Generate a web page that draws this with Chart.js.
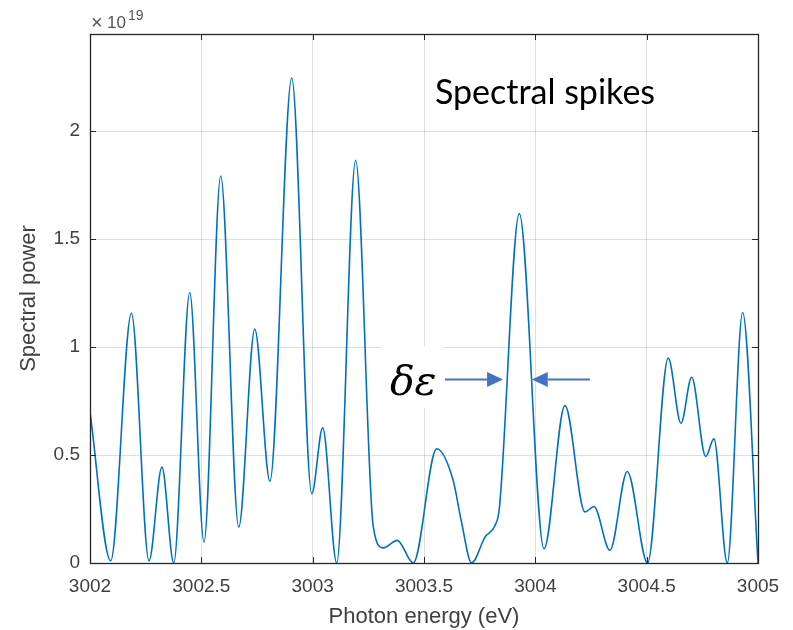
<!DOCTYPE html>
<html>
<head>
<meta charset="utf-8">
<script src="https://cdn.jsdelivr.net/npm/chart.js@4.4.1/dist/chart.umd.min.js"></script>
<style>
  html,body{margin:0;padding:0;background:#fff}
  #wrap{width:793px;height:630px}
</style>
</head>
<body>
<div id="wrap"><canvas id="c" width="793" height="630"></canvas></div>
<script>
// Spectrum, power in units of 1e19
const energy = [
  3002.000, 3002.093, 3002.186, 3002.265, 3002.323, 3002.376, 3002.448, 3002.512,
  3002.587, 3002.668, 3002.740, 3002.808, 3002.906, 3002.996, 3003.045, 3003.108,
  3003.193, 3003.272, 3003.317, 3003.380, 3003.452, 3003.557, 3003.631, 3003.667,
  3003.714, 3003.774, 3003.819, 3003.838, 3003.928, 3004.039, 3004.133, 3004.223,
  3004.263, 3004.335, 3004.413, 3004.504, 3004.597, 3004.654, 3004.702, 3004.765,
  3004.802, 3004.862, 3004.931, 3005.000
];
const power = [
  0.70, 0.01, 1.157, 0.01, 0.444, 0.0, 1.253, 0.097,
  1.792, 0.166, 1.083, 0.379, 2.246, 0.321, 0.626, 0.0,
  1.865, 0.17, 0.07, 0.105, 0.0, 0.529, 0.382, 0.197,
  0.0, 0.12, 0.174, 0.25, 1.618, 0.066, 0.729, 0.236,
  0.262, 0.059, 0.424, 0.0, 0.949, 0.647, 0.86, 0.493,
  0.575, 0.0, 1.16, 0.0
];
const xTicks = [3002, 3002.5, 3003, 3003.5, 3004, 3004.5, 3005];
const yTicks = [0, 0.5, 1, 1.5, 2];
const yMax = 2.45;
const exponent = "19";

const GRID = "rgba(38,38,38,0.15)";
const INK = "#262626";
const SANS = "'Liberation Sans', Arial, sans-serif";
const TICKFONT = {family: SANS, size: 19};

// white patch behind the δε label (covers grid only)
const patch = {
  id: "patch",
  beforeDatasetsDraw(chart){
    const {ctx, scales:{x, y}} = chart;
    const l = x.getPixelForValue(3003.311), r = x.getPixelForValue(3003.585);
    const t = y.getPixelForValue(1.0), b = y.getPixelForValue(0.72);
    ctx.save();
    ctx.fillStyle = "#fff";
    ctx.fillRect(l, t - 1, r - l, b - t + 1);
    ctx.restore();
  }
};

function arrow(ctx, x0, x1, yy){
  // shaft from x0 to head base, head tip at x1
  const dir = Math.sign(x1 - x0);
  const headLen = 16, headHalf = 7.5;
  ctx.beginPath();
  ctx.moveTo(x0, yy);
  ctx.lineTo(x1 - dir*headLen, yy);
  ctx.stroke();
  ctx.beginPath();
  ctx.moveTo(x1, yy);
  ctx.lineTo(x1 - dir*headLen, yy - headHalf);
  ctx.lineTo(x1 - dir*headLen, yy + headHalf);
  ctx.closePath();
  ctx.fill();
}

const frame = {
  id: "frame",
  afterDraw(chart){
    const {ctx, chartArea:a, scales:{x, y}} = chart;
    ctx.save();
    // box + inward ticks on all four sides
    ctx.strokeStyle = INK;
    ctx.lineWidth = 1;
    ctx.beginPath();
    xTicks.forEach(v => {
      const px = Math.round(x.getPixelForValue(v)) + 0.5;
      ctx.moveTo(px, a.bottom); ctx.lineTo(px, a.bottom - 6);
      ctx.moveTo(px, a.top); ctx.lineTo(px, a.top + 6);
    });
    yTicks.forEach(v => {
      const py = Math.round(y.getPixelForValue(v)) + 0.5;
      ctx.moveTo(a.left, py); ctx.lineTo(a.left + 6, py);
      ctx.moveTo(a.right, py); ctx.lineTo(a.right - 6, py);
    });
    ctx.stroke();
    ctx.lineWidth = 1.3;
    ctx.strokeRect(Math.round(a.left) + 0.5, Math.round(a.top) + 0.5,
                   Math.round(a.right - a.left), Math.round(a.bottom - a.top));

    // x10^19 multiplier
    ctx.fillStyle = "#555";
    ctx.textBaseline = "alphabetic";
    ctx.font = "20px " + SANS;
    ctx.fillText("\u00d7", a.left + 1, a.top - 5);
    ctx.font = "17px " + SANS;
    ctx.fillText("10", a.left + 17, a.top - 6);
    const w = ctx.measureText("10").width;
    ctx.font = "14px " + SANS;
    ctx.fillText(exponent, a.left + 19 + w, a.top - 14);

    // annotation text
    ctx.fillStyle = "#000";
    ctx.font = "34px Lato, 'Noto Sans', sans-serif";
    ctx.fillText("Spectral spikes", x.getPixelForValue(3003.549), y.getPixelForValue(2.125));
    ctx.font = "italic 41px 'DejaVu Serif', 'Liberation Serif', serif";
    ctx.fillText("\u03b4\u03b5", x.getPixelForValue(3003.347), y.getPixelForValue(0.78));

    // FWHM arrows
    const ay = Math.round(y.getPixelForValue(0.854)) + 0.5;
    ctx.strokeStyle = "#4472C4";
    ctx.fillStyle = "#4472C4";
    ctx.lineWidth = 2.2;
    arrow(ctx, x.getPixelForValue(3003.594), x.getPixelForValue(3003.855), ay);
    arrow(ctx, x.getPixelForValue(3004.245), x.getPixelForValue(3003.984), ay);
    ctx.restore();
  }
};

new Chart(document.getElementById("c"), {
  type: "line",
  data: {
    datasets: [{
      data: energy.map((e, i) => ({x: e, y: power[i]})),
      borderColor: "#0072BD",
      borderWidth: 1.6,
      pointRadius: 0,
      fill: false,
      cubicInterpolationMode: "monotone"
    }]
  },
  options: {
    responsive: false,
    animation: false,
    events: [],
    layout: {padding: {left: 0, right: 35, top: 34, bottom: 0}},
    plugins: {legend: {display: false}, tooltip: {enabled: false}},
    scales: {
      x: {
        type: "linear", min: 3002, max: 3005,
        afterBuildTicks: s => { s.ticks = xTicks.map(v => ({value: v})); },
        afterFit: s => { s.height = 67; },
        grid: {color: GRID, drawTicks: false},
        border: {display: false},
        ticks: {color: "#404040", font: TICKFONT, padding: 12, maxRotation: 0,
                callback: v => String(+v.toFixed(1))},
        title: {display: true, text: "Photon energy (eV)", color: "#404040",
                font: {family: SANS, size: 22},
                padding: {top: 0, bottom: 0}}
      },
      y: {
        type: "linear", min: 0, max: yMax,
        afterBuildTicks: s => { s.ticks = yTicks.map(v => ({value: v})); },
        afterFit: s => { s.width = 90; },
        grid: {color: GRID, drawTicks: false},
        border: {display: false},
        ticks: {color: "#404040", font: TICKFONT, padding: 10,
                callback: v => String(v)},
        title: {display: true, text: "Spectral power", color: "#404040",
                font: {family: SANS, size: 22},
                padding: {top: 16, bottom: 0}}
      }
    }
  },
  plugins: [patch, frame]
});
</script>
</body>
</html>
